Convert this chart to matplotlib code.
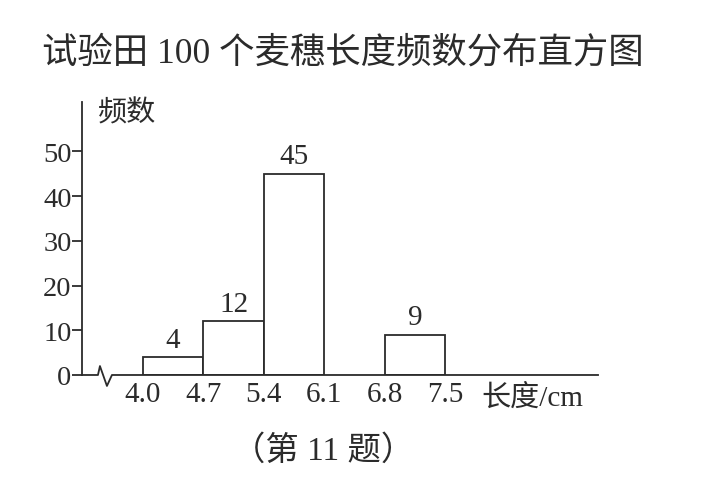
import numpy as np
import matplotlib.pyplot as plt

# histogram data (length in cm, frequency)
edges = [4.0, 4.7, 5.4, 6.1, 6.8, 7.5]
counts = [4, 12, 45, None, 9]   # the 6.1-6.8 bar is left blank in the problem
yticks = [0, 10, 20, 30, 40, 50]

serif = ['Liberation Serif', 'Noto Sans CJK SC']
ink = '#2b2b2b'

fig = plt.figure(figsize=(7.11, 4.89), dpi=100)
ax = fig.add_axes([0.1153, 0.2311, 0.7258, 0.558])

# bars
for i, c in enumerate(counts):
    if c is None:
        continue
    left = edges[i]
    w = edges[i + 1] - edges[i]
    ax.bar(left, c, width=w, align='edge', facecolor='white',
           edgecolor=ink, linewidth=1.3, zorder=2)
    ax.text(left + w / 2, c + 1.0, str(c), ha='center', va='bottom',
            fontsize=21, family=serif, color=ink)

xmin, xmax = 3.294, 9.27
ax.set_xlim(xmin, xmax)
ax.set_ylim(0, 61)

# axes lines
for s in ['top', 'right', 'bottom']:
    ax.spines[s].set_visible(False)
ax.spines['left'].set_color(ink)
ax.spines['left'].set_linewidth(1.3)

# x axis with break mark near the origin
zx = [xmin, 3.479, 3.502, 3.583, 3.641, xmax]
zy = [0, 0, 2.0, -2.45, 0, 0]
ax.plot(zx, zy, color=ink, linewidth=1.3, clip_on=False, zorder=3)

ax.set_yticks(yticks)
ax.set_yticklabels([str(v) for v in yticks], fontsize=20.5, family=serif, color=ink)
ax.tick_params(axis='y', direction='out', length=7, width=1.3, color=ink, pad=0.5)

ax.set_xticks(edges)
ax.set_xticklabels(['%.1f' % e for e in edges], fontsize=21, family=serif, color=ink)
ax.tick_params(axis='x', length=0, pad=4)

# axis names
ax.text(0.03, 1.01, '频数', transform=ax.transAxes, ha='left', va='top',
        fontsize=21, family=serif, color=ink)
ax.text(0.971, -0.03, '长度/cm', transform=ax.transAxes, ha='right', va='top',
        fontsize=21, family=serif, color=ink)

fig.text(0.482, 0.89, '试验田 100 个麦穗长度频数分布直方图', ha='center', va='center',
         fontsize=25.5, family=serif, color=ink)
fig.text(0.454, 0.078, '（第 11 题）', ha='center', va='center',
         fontsize=24, family=serif, color=ink)

fig.savefig('out.png', dpi=100, facecolor='white')
